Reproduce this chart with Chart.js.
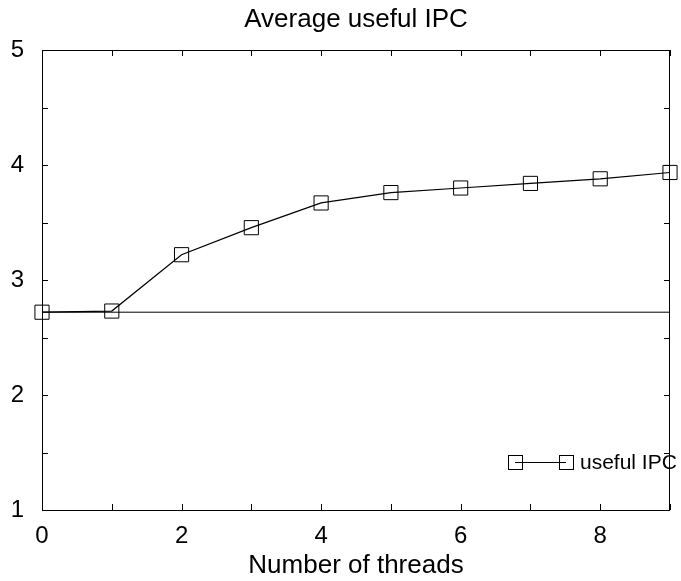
<!DOCTYPE html>
<html>
<head>
<meta charset="utf-8">
<script src="https://cdn.jsdelivr.net/npm/chart.js@4/dist/chart.umd.min.js"></script>
<style>
  html, body { margin: 0; padding: 0; background: #fff; }
  #wrap { width: 681px; height: 581px; }
</style>
</head>
<body>
<div id="wrap"><canvas id="ipcChart" width="681" height="581"></canvas></div>
<script>
// data
const threads = [0, 1, 2, 3, 4, 5, 6, 7, 8, 9];
const usefulIPC = [2.72, 2.73, 3.22, 3.455, 3.67, 3.76, 3.80, 3.84, 3.88, 3.935];
const baselineIPC = 2.72;
const xTicks = [0, 2, 4, 6, 8];
const yTicks = [1, 2, 3, 4, 5];
const seriesLabel = 'useful IPC';
const chartTitle = 'Average useful IPC';

const fontFamily = "Arial, 'Liberation Sans', Helvetica, sans-serif";

// frame with inward ticks, title centred over the plot, gnuplot-like key
const frameTicks = {
  id: 'frameTicks',
  afterDatasetsDraw(chart) {
    const ctx = chart.ctx;
    const x = chart.scales.x, y = chart.scales.y;
    const a = chart.chartArea;
    ctx.save();
    ctx.strokeStyle = '#000';
    ctx.lineWidth = 1;
    ctx.strokeRect(a.left + 0.5, a.top + 0.5, a.right - a.left - 1, a.bottom - a.top);
    ctx.beginPath();
    for (let v = 0; v <= 9; v++) {
      const px = Math.round(x.getPixelForValue(v)) + 0.5;
      ctx.moveTo(px, a.bottom); ctx.lineTo(px, a.bottom - 6);
      ctx.moveTo(px, a.top); ctx.lineTo(px, a.top + 6);
    }
    for (let v = 1; v <= 5; v += 0.5) {
      const py = Math.round(y.getPixelForValue(v)) + 0.5;
      ctx.moveTo(a.left, py); ctx.lineTo(a.left + 6, py);
      ctx.moveTo(a.right, py); ctx.lineTo(a.right - 6, py);
    }
    ctx.stroke();

    ctx.fillStyle = '#000';
    ctx.textAlign = 'center';
    ctx.textBaseline = 'alphabetic';
    ctx.font = '26px ' + fontFamily;
    ctx.fillText(chartTitle, (a.left + a.right) / 2, 27);

    // legend entry
    const ly = 462.5, lx1 = 515, lx2 = 566, half = 7;
    ctx.beginPath();
    ctx.moveTo(lx1, ly); ctx.lineTo(lx2, ly);
    ctx.stroke();
    ctx.strokeRect(lx1 - half + 0.5, ly - half, half * 2, half * 2);
    ctx.strokeRect(lx2 - half + 0.5, ly - half, half * 2, half * 2);
    ctx.font = '21px ' + fontFamily;
    ctx.textBaseline = 'middle';
    ctx.textAlign = 'left';
    ctx.fillText(seriesLabel, 580, ly + 1);
    ctx.restore();
  }
};

const ctx = document.getElementById('ipcChart').getContext('2d');
new Chart(ctx, {
  type: 'line',
  data: {
    datasets: [{
      label: seriesLabel,
      data: threads.map((t, i) => ({ x: t, y: usefulIPC[i] })),
      borderColor: '#000',
      borderWidth: 1.2,
      pointStyle: 'rect',
      pointRadius: 10,
      pointBorderWidth: 1,
      pointBorderColor: '#000',
      pointBackgroundColor: 'rgba(0,0,0,0)',
      tension: 0,
      clip: false
    }, {
      label: 'baseline',
      data: [{ x: threads[0], y: baselineIPC }, { x: threads[threads.length - 1], y: baselineIPC }],
      borderColor: '#000',
      borderWidth: 1,
      pointRadius: 0,
      tension: 0
    }]
  },
  options: {
    responsive: false,
    animation: false,
    devicePixelRatio: 1,
    layout: { padding: { left: 0, right: 4, top: 50, bottom: 0 } },
    plugins: {
      legend: { display: false },
      tooltip: { enabled: false },
      title: { display: false }
    },
    scales: {
      x: {
        type: 'linear',
        min: 0,
        max: 9,
        afterBuildTicks: (s) => { s.ticks = xTicks.map(v => ({ value: v })); },
        afterFit: (s) => { s.height = 71; s.paddingLeft = 0; s.paddingRight = 0; },
        grid: { display: false, drawTicks: false },
        border: { display: false },
        ticks: {
          color: '#000',
          padding: 12,
          maxRotation: 0,
          font: { family: fontFamily, size: 24 }
        },
        title: {
          display: true,
          text: 'Number of threads',
          color: '#000',
          padding: { top: 0, bottom: 0 },
          font: { family: fontFamily, size: 26 }
        }
      },
      y: {
        min: 1,
        max: 5,
        afterBuildTicks: (s) => { s.ticks = yTicks.map(v => ({ value: v })); },
        afterFit: (s) => { s.width = 42; s.paddingTop = 0; s.paddingBottom = 0; },
        grid: { display: false, drawTicks: false },
        border: { display: false },
        ticks: {
          color: '#000',
          padding: 18,
          font: { family: fontFamily, size: 24 }
        }
      }
    }
  },
  plugins: [frameTicks]
});
</script>
</body>
</html>
